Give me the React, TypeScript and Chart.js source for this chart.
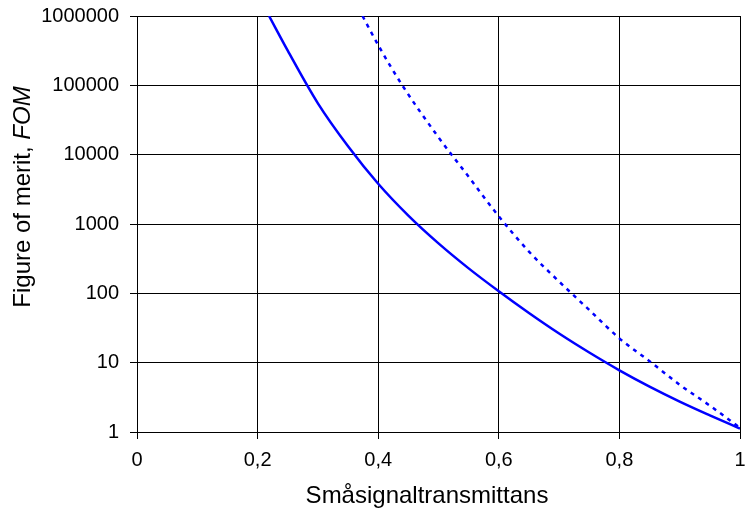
import React, { useEffect, useRef } from "react";
import { Chart, registerables } from "chart.js";

Chart.register(...registerables);

// Transmittance (x) and Figure of merit (y) values
const SOLID_X = [0.219, 0.25, 0.3, 0.35, 0.4, 0.45, 0.5, 0.55, 0.6, 0.65, 0.7, 0.75, 0.8, 0.85, 0.9, 0.95, 1.0];
const SOLID_Y = [1000000, 316000, 55000, 13200, 3800, 1320, 525, 229, 107, 52, 26.3, 14, 7.76, 4.52, 2.75, 1.74, 1.12];

const DOTTED_X = [0.374, 0.4, 0.44, 0.5, 0.55, 0.6, 0.65, 0.7, 0.75, 0.8, 0.85, 0.9, 0.95, 1.0];
const DOTTED_Y = [1000000, 380000, 100000, 17800, 4800, 1290, 400, 148, 57.5, 22.4, 10.5, 4.8, 2.4, 1.15];

const Y_TICKS = [1, 10, 100, 1000, 10000, 100000, 1000000];
const X_TICK_LABELS = ["0", "0,2", "0,4", "0,6", "0,8", "1"];

const X_TITLE = "Småsignaltransmittans";
const Y_TITLE_MAIN = "Figure of merit, ";
const Y_TITLE_ITALIC = "FOM";

const FONT_FAMILY = '"Liberation Sans", Arial, sans-serif';

const titlesPlugin = {
  id: "customTitles",
  afterDraw(chart: any) {
    const ctx = chart.ctx;
    ctx.save();
    ctx.fillStyle = "#000";
    const font = `24px ${FONT_FAMILY}`;
    ctx.font = font;
    ctx.textAlign = "center";
    ctx.textBaseline = "alphabetic";
    ctx.fillText(X_TITLE, 427, 503);

    ctx.translate(30, 197);
    ctx.rotate(-Math.PI / 2);
    ctx.font = font;
    const w1 = ctx.measureText(Y_TITLE_MAIN).width;
    ctx.font = "italic " + font;
    const w2 = ctx.measureText(Y_TITLE_ITALIC).width;
    const x0 = -(w1 + w2) / 2;
    ctx.textAlign = "left";
    ctx.font = font;
    ctx.fillText(Y_TITLE_MAIN, x0, 0);
    ctx.font = "italic " + font;
    ctx.fillText(Y_TITLE_ITALIC, x0 + w1, 0);
    ctx.restore();
  },
};

export default function App() {
  const ref = useRef<HTMLCanvasElement | null>(null);

  useEffect(() => {
    document.body.style.margin = "0";
    if (!ref.current) return;
    const solid = SOLID_X.map((x, i) => ({ x, y: SOLID_Y[i] }));
    const dotted = DOTTED_X.map((x, i) => ({ x, y: DOTTED_Y[i] }));
    const zeroPad = (scale: any) => {
      scale.paddingTop = 0;
      scale.paddingBottom = 0;
      scale.paddingLeft = 0;
      scale.paddingRight = 0;
    };
    const chart = new Chart(ref.current, {
      type: "line",
      data: {
        datasets: [
          {
            data: solid,
            borderColor: "#0000FF",
            borderWidth: 2.5,
            pointRadius: 0,
            cubicInterpolationMode: "monotone",
            fill: false,
          },
          {
            data: dotted,
            borderColor: "#0000FF",
            borderWidth: 2.5,
            borderDash: [4, 5],
            pointRadius: 0,
            cubicInterpolationMode: "monotone",
            fill: false,
          },
        ],
      },
      options: {
        responsive: false,
        animation: false,
        events: [],
        layout: { padding: { left: 0, top: 16, right: 6, bottom: 0 } },
        plugins: {
          legend: { display: false },
          tooltip: { enabled: false },
        },
        scales: {
          x: {
            type: "linear",
            min: 0,
            max: 1,
            ticks: {
              stepSize: 0.2,
              color: "#000",
              font: { size: 20, family: FONT_FAMILY },
              padding: 9,
              maxRotation: 0,
              callback: (_v: any, i: number) => X_TICK_LABELS[i],
            },
            grid: { color: "#000", lineWidth: 1, tickLength: 7, tickColor: "#000" },
            border: { display: true, color: "#000" },
            afterFit: (scale: any) => {
              scale.height = 76;
              zeroPad(scale);
            },
          },
          y: {
            type: "logarithmic",
            min: 1,
            max: 1000000,
            ticks: {
              color: "#000",
              font: { size: 20, family: FONT_FAMILY },
              padding: 11,
              callback: (v: any) => String(v),
            },
            afterBuildTicks: (scale: any) => {
              scale.ticks = Y_TICKS.map((v) => ({ value: v, major: true }));
            },
            grid: { color: "#000", lineWidth: 1, tickLength: 7, tickColor: "#000" },
            border: { display: true, color: "#000" },
            afterFit: (scale: any) => {
              scale.width = 137;
              zeroPad(scale);
            },
          },
        },
      },
      plugins: [titlesPlugin],
    } as any);
    return () => chart.destroy();
  }, []);

  return (
    <div style={{ width: 746, height: 508 }}>
      <canvas ref={ref} width={746} height={508} />
    </div>
  );
}
